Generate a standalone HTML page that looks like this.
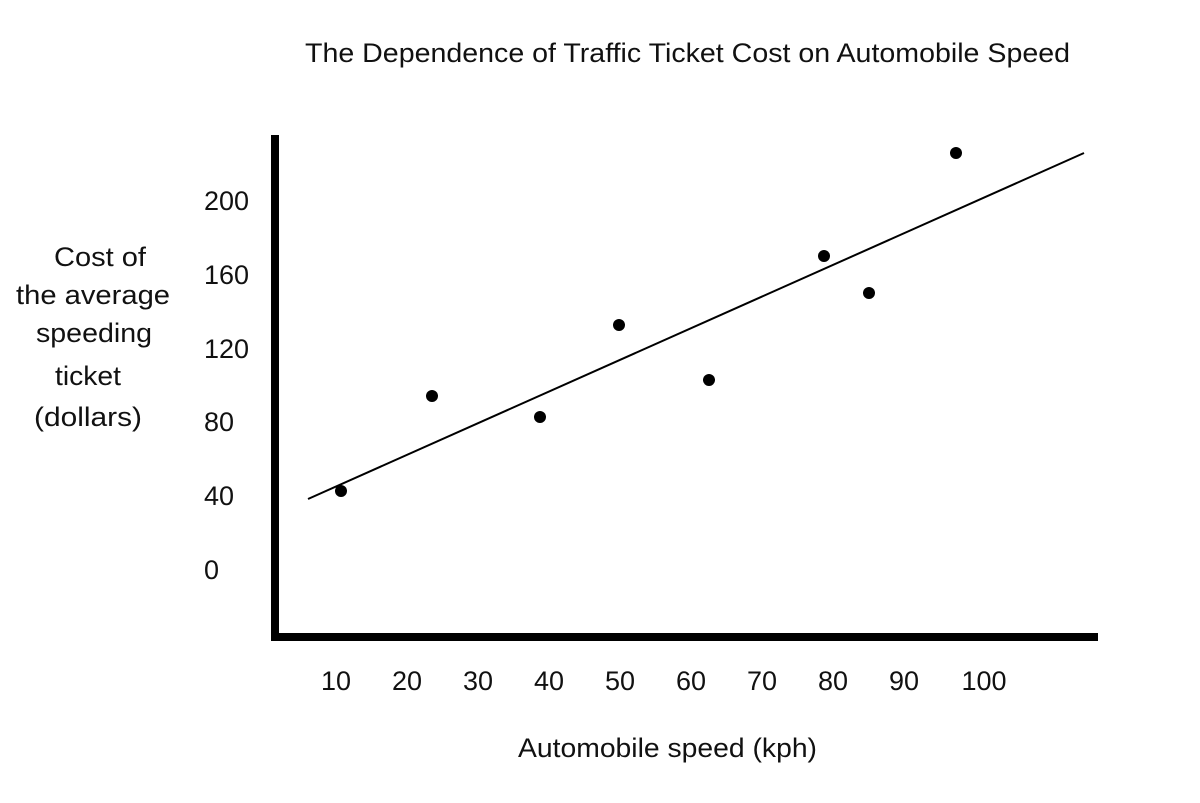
<!DOCTYPE html>
<html><head><style>
html,body{margin:0;padding:0;background:#fff;}
svg{display:block}
text{font-family:"Liberation Sans",sans-serif;font-size:27px;fill:#111;}
</style></head><body>
<svg width="1200" height="803" viewBox="0 0 1200 803">
<text x="305" y="62" textLength="765" lengthAdjust="spacingAndGlyphs">The Dependence of Traffic Ticket Cost on Automobile Speed</text>
<rect x="271" y="135" width="8" height="506" fill="#000"/>
<rect x="271" y="633" width="827" height="8" fill="#000"/>
<g text-anchor="start">
<text x="204" y="210">200</text>
<text x="204" y="284">160</text>
<text x="204" y="358">120</text>
<text x="204" y="431">80</text>
<text x="204" y="505">40</text>
<text x="204" y="579">0</text>
</g>
<text x="54" y="266" textLength="92" lengthAdjust="spacingAndGlyphs">Cost of</text>
<text x="16" y="304" textLength="154" lengthAdjust="spacingAndGlyphs">the average</text>
<text x="36" y="342" textLength="116" lengthAdjust="spacingAndGlyphs">speeding</text>
<text x="55" y="385" textLength="66" lengthAdjust="spacingAndGlyphs">ticket</text>
<text x="34" y="426" textLength="108" lengthAdjust="spacingAndGlyphs">(dollars)</text>
<g text-anchor="middle">
<text x="336" y="690">10</text>
<text x="407" y="690">20</text>
<text x="478" y="690">30</text>
<text x="549" y="690">40</text>
<text x="620" y="690">50</text>
<text x="691" y="690">60</text>
<text x="762" y="690">70</text>
<text x="833" y="690">80</text>
<text x="904" y="690">90</text>
<text x="984" y="690">100</text>
</g>
<text x="518" y="757" textLength="299" lengthAdjust="spacingAndGlyphs">Automobile speed (kph)</text>
<line x1="308" y1="499" x2="1084" y2="153" stroke="#000" stroke-width="2"/>
<g fill="#000">
<circle cx="341" cy="491" r="6"/>
<circle cx="432" cy="396" r="6"/>
<circle cx="540" cy="417" r="6"/>
<circle cx="619" cy="325" r="6"/>
<circle cx="709" cy="380" r="6"/>
<circle cx="824" cy="256" r="6"/>
<circle cx="869" cy="293" r="6"/>
<circle cx="956" cy="153" r="6"/>
</g>
</svg>
</body></html>
